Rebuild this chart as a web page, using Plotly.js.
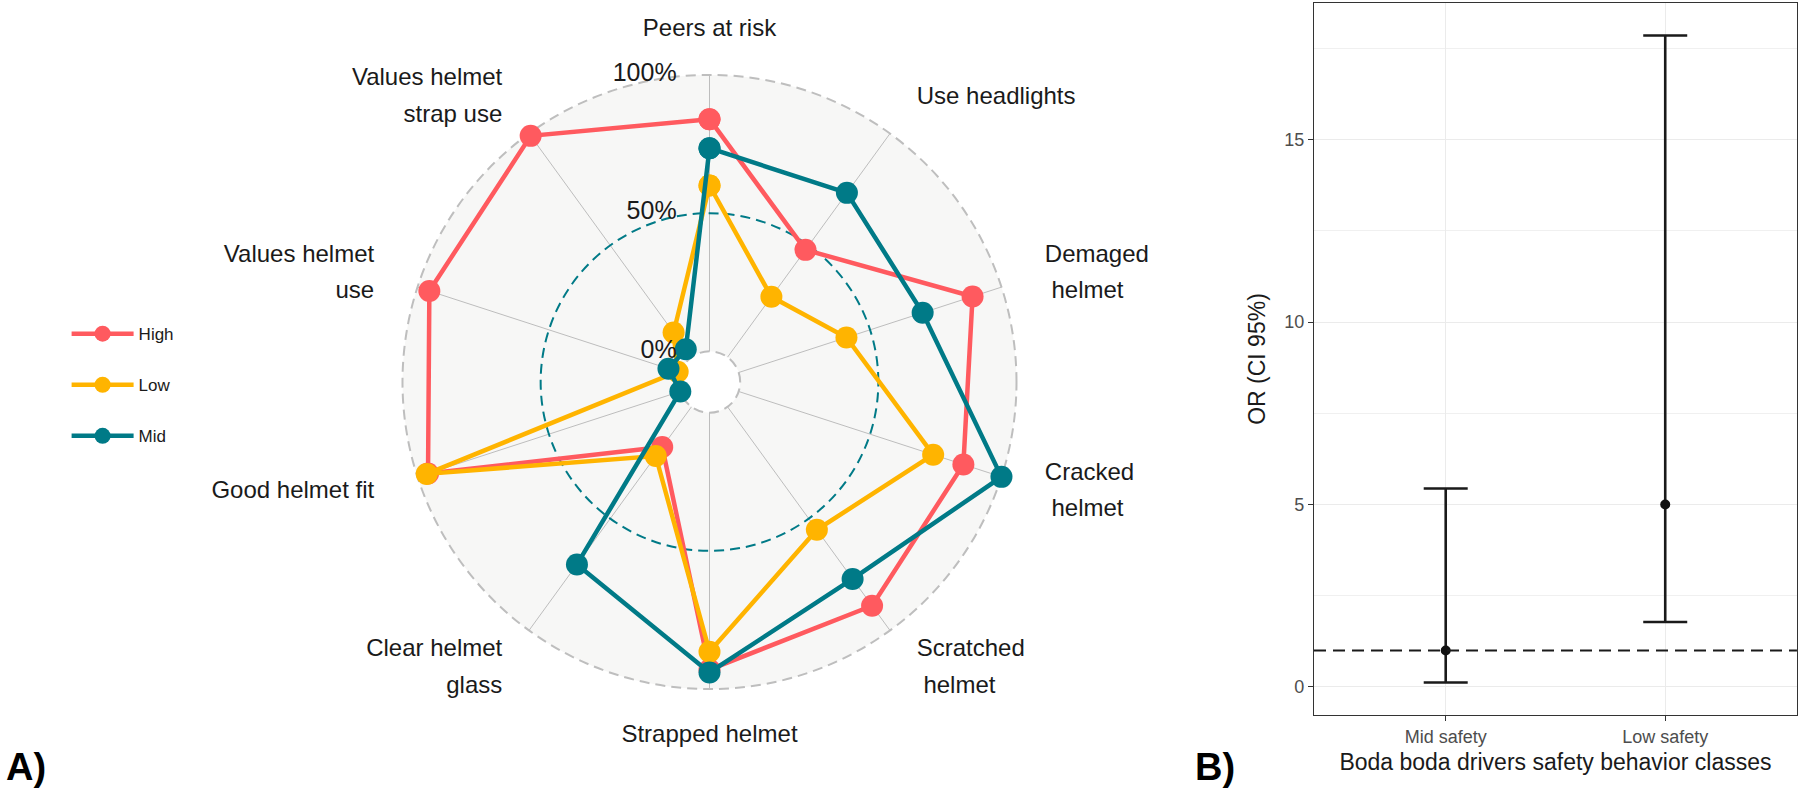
<!DOCTYPE html>
<html>
<head>
<meta charset="utf-8">
<script src="https://cdn.plot.ly/plotly-3.0.1.min.js"></script>
<style>html,body{margin:0;padding:0;background:#fff;}#chart{width:1800px;height:794px;}</style>
</head>
<body>
<div id="chart"></div>
<script>
// ---------- Panel A data (share of drivers, 0..1) ----------
const categories = ['Peers at risk', 'Use headlights', 'Demaged helmet', 'Cracked helmet', 'Scratched helmet',
  'Strapped helmet', 'Clear helmet glass', 'Good helmet fit', 'Values helmet use', 'Values helmet strap use'];
const categoryLabels = ['Peers at risk', 'Use headlights', 'Demaged\n\u00A0helmet', 'Cracked\n\u00A0helmet',
  'Scratched\n\u00A0helmet', 'Strapped helmet', 'Clear helmet\nglass', 'Good helmet fit', 'Values helmet\nuse',
  'Values helmet\nstrap use'];
const groups = ['High', 'Low', 'Mid'];
const highValues = [0.84, 0.48, 0.89, 0.855, 0.89, 0.93, 0.18, 0.96, 0.955, 0.99];
const lowValues  = [0.60, 0.27, 0.41, 0.74, 0.55, 0.865, 0.22, 0.965, 0.01, 0.11];
const midValues  = [0.735, 0.735, 0.70, 1.00, 0.77, 0.94, 0.705, 0.0, 0.045, 0.035];
const radialTicks = [0, 0.5, 1];
const radialTickText = ['0%', '50%', '100%'];

// ---------- Panel B data ----------
const classes = ['Mid safety', 'Low safety'];
const orEstimate = [1.0, 5.0];
const orLower = [0.12, 1.78];
const orUpper = [5.44, 17.86];
const yTicks = [0, 5, 10, 15];
const yMinorTicks = [2.5, 7.5, 12.5, 17.5];

// ---------- styling ----------
const FONT = 'Liberation Sans, Arial, Helvetica, sans-serif';
const groupColours = {High: '#FF5A5F', Low: '#FFB400', Mid: '#007A87'};
const seriesValues = {High: highValues, Low: lowValues, Mid: midValues};
const close = a => a.concat([a[0]]);

// Geometry: background disc (polar) and an overlay (polar2) sharing the same scale.
// Overlay radial range is wider so that the outer labels sit inside it.
const CX = 709.5, CY = 382, R = 307, W = 1800, H = 794;
const HOLE = 0.1;                      // 0% sits at 10% of the radius
const R_MIN = -HOLE / (1 - HOLE);      // overlay range start giving the same mapping
const R_MAX = 1.25;
const R2 = R * (1 - HOLE) * (R_MAX - R_MIN);
const dom = r => ({x: [(CX - r) / W, (CX + r) / W], y: [1 - (CY + r) / H, 1 - (CY - r) / H]});

const traces = [];
// invisible helper trace so that the background polar subplot gets its categorical angular axis
traces.push({
  type: 'scatterpolar', subplot: 'polar', theta: categories, r: categories.map(() => 0),
  mode: 'markers', marker: {opacity: 0}, showlegend: false, hoverinfo: 'skip'
});
groups.forEach(g => {
  traces.push({
    type: 'scatterpolar', subplot: 'polar2', name: g, legendgroup: g,
    theta: close(categories), r: close(seriesValues[g]),
    mode: 'lines+markers',
    line: {color: groupColours[g], width: 4.5},
    marker: {color: groupColours[g], size: 22},
    cliponaxis: false
  });
});
// category labels (outside the circle)
const labelPositions = categories.map((c, i) => {
  const ang = i * 360 / categories.length;
  if (ang === 0 || ang === 180) return 'middle center';
  return ang < 180 ? 'middle right' : 'middle left';
});
traces.push({
  type: 'scatterpolar', subplot: 'polar2', theta: categories, r: categories.map(() => 1.165),
  mode: 'text',
  text: categoryLabels.map(t => t.split('\n').map(s => '<span style="font-size:24px">' + s + '</span>').join('<br>')),
  textposition: labelPositions,
  textfont: {family: FONT, size: 28.2, color: '#1a1a1a'},
  cliponaxis: false, showlegend: false, hoverinfo: 'skip'
});
// radial tick labels
traces.push({
  type: 'scatterpolar', subplot: 'polar2', theta: radialTicks.map(() => categories[0]), r: radialTicks,
  mode: 'markers+text', text: radialTickText, textposition: 'middle left',
  marker: {size: 51, color: 'rgba(0,0,0,0)'},
  textfont: {family: FONT, size: 25, color: '#1a1a1a'},
  cliponaxis: false, showlegend: false, hoverinfo: 'skip'
});

// Panel B
traces.push({
  type: 'scatter', xaxis: 'x2', yaxis: 'y2', x: classes, y: orEstimate,
  mode: 'markers', marker: {color: '#111', size: 10},
  error_y: {type: 'data', symmetric: false,
    array: orUpper.map((u, i) => u - orEstimate[i]),
    arrayminus: orLower.map((l, i) => orEstimate[i] - l),
    color: '#1a1a1a', thickness: 2.6, width: 22},
  showlegend: false, hoverinfo: 'x+y'
});

const angularCommon = {
  type: 'category', categoryorder: 'array', categoryarray: categories,
  direction: 'clockwise', rotation: 90, showticklabels: false, ticks: '', showline: false
};

const layout = {
  width: W, height: H,
  margin: {l: 0, r: 0, t: 0, b: 0},
  paper_bgcolor: '#ffffff', plot_bgcolor: '#ffffff',
  font: {family: FONT, color: '#1a1a1a'},
  showlegend: true,
  legend: {x: 0.037, y: 0.515, xanchor: 'left', yanchor: 'middle',
    font: {family: FONT, size: 17, color: '#1a1a1a'}, tracegroupgap: 26, itemwidth: 62},
  polar: {
    domain: dom(R), hole: HOLE, bgcolor: '#F7F7F6',
    radialaxis: {range: [0, 1], autorange: false, tickvals: [0.5], showticklabels: false, ticks: '',
      showline: false, gridcolor: '#007A87', gridwidth: 1.5, griddash: '10px,6px'},
    angularaxis: Object.assign({}, angularCommon, {showgrid: true, gridcolor: '#BDBDBD', gridwidth: 1.4})
  },
  polar2: {
    domain: dom(R2), hole: 0, bgcolor: 'rgba(0,0,0,0)',
    radialaxis: {range: [R_MIN, R_MAX], autorange: false, tickvals: [0, 1], showticklabels: false, ticks: '',
      showline: false, gridcolor: '#BEBEBE', gridwidth: 1.5, griddash: '10px,6px'},
    angularaxis: Object.assign({}, angularCommon, {showgrid: false})
  },
  xaxis2: {
    domain: [0.73, 0.9983], anchor: 'y2', type: 'category', range: [-0.6, 1.6],
    showgrid: true, gridcolor: '#EBEBEB', gridwidth: 1.3, zeroline: false,
    showline: true, mirror: true, linecolor: '#333333', linewidth: 1.3,
    ticks: 'outside', ticklen: 5, tickcolor: '#333333', tickwidth: 1.2,
    tickfont: {family: FONT, size: 18, color: '#4D4D4D'},
    title: {text: 'Boda boda drivers safety behavior classes', font: {family: FONT, size: 23, color: '#1a1a1a'}, standoff: 8}
  },
  yaxis2: {
    domain: [0.0995, 0.9962], anchor: 'x2', range: [-0.77, 18.75],
    tickvals: yTicks, ticktext: yTicks.map(String),
    minor: {tickvals: yMinorTicks, showgrid: true, gridcolor: '#F0F0F0', gridwidth: 0.7, ticks: ''},
    showgrid: true, gridcolor: '#EBEBEB', gridwidth: 1.3, zeroline: false,
    showline: true, mirror: true, linecolor: '#333333', linewidth: 1.3,
    ticks: 'outside', ticklen: 5, tickcolor: '#333333', tickwidth: 1.2,
    tickfont: {family: FONT, size: 18, color: '#4D4D4D'},
    title: {text: 'OR (CI 95%)', font: {family: FONT, size: 23, color: '#1a1a1a'}, standoff: 12}
  },
  shapes: [{
    type: 'line', xref: 'x2 domain', x0: 0, x1: 1, yref: 'y2', y0: 1, y1: 1,
    line: {color: '#1a1a1a', width: 2, dash: '12px,7px'}
  }],
  annotations: [
    {text: '<b>A)</b>', xref: 'paper', yref: 'paper', x: 0.002, y: 0.034, xanchor: 'left', yanchor: 'middle',
      showarrow: false, font: {family: FONT, size: 38, color: '#000'}},
    {text: '<b>B)</b>', xref: 'paper', yref: 'paper', x: 0.663, y: 0.034, xanchor: 'left', yanchor: 'middle',
      showarrow: false, font: {family: FONT, size: 38, color: '#000'}}
  ]
};

Plotly.newPlot('chart', traces, layout, {displayModeBar: false});
</script>
</body>
</html>
